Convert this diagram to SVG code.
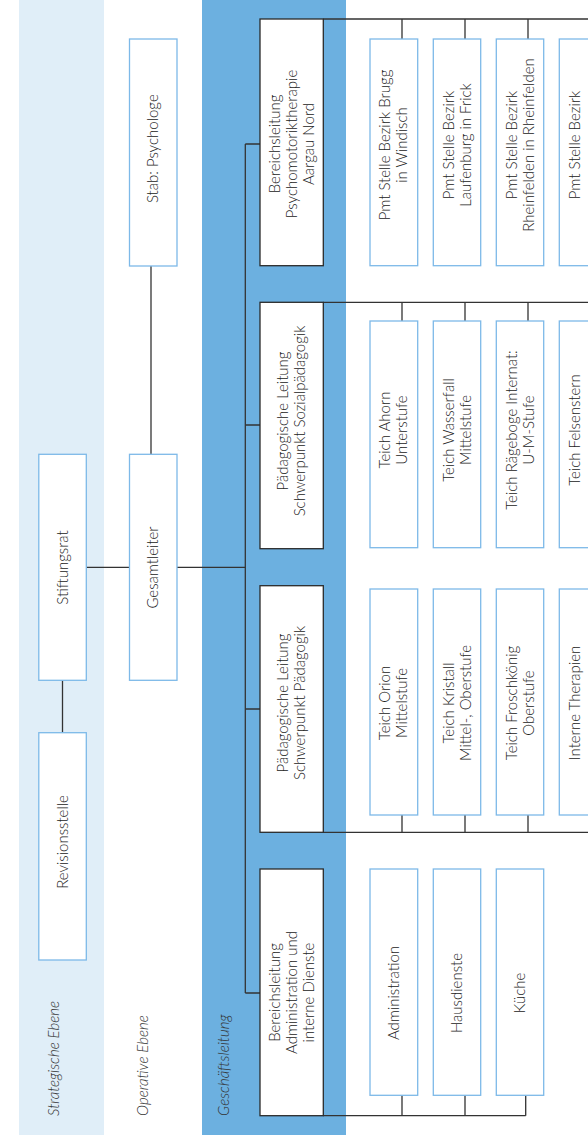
<svg xmlns="http://www.w3.org/2000/svg" width="588" height="1136" viewBox="0 0 588 1136">
<style>
.band1{fill:#e0eef8}
.band2{fill:#6cb0e0}
.bx{fill:#fff;stroke:#7db9e8;stroke-width:1.3}
.bk{fill:#fff;stroke:#2a2a2a;stroke-width:1.3}
.ln{fill:none;stroke:#333;stroke-width:1.3}
.t{font-family:Lato,"Open Sans","Liberation Sans",sans-serif;font-weight:300;font-size:15px;fill:#222;text-anchor:middle}
.lbl{font-family:Lato,"Open Sans","Liberation Sans",sans-serif;font-weight:300;font-style:italic;font-size:15px;fill:#333;text-anchor:start}
</style>
<rect class="band1" x="19" y="0" width="85" height="1135"/>
<rect class="band2" x="202" y="0" width="144" height="1135"/>
<g id="labels">
<text class="lbl" transform="translate(59,1116) rotate(-90)">Strategische Ebene</text>
<text class="lbl" transform="translate(148,1116) rotate(-90)">Operative Ebene</text>
<text class="lbl" transform="translate(229,1116) rotate(-90)">Geschäftsleitung</text>
</g>
<g id="connectors">
<path class="ln" d="M62.5,680.3V732.7"/>
<path class="ln" d="M86.3,567.3H129.5"/>
<path class="ln" d="M151,266V454"/>
<path class="ln" d="M177,567.3H245.3"/>
<path class="ln" d="M245.3,144V993"/>
<path class="ln" d="M245.3,144H260M245.3,425H260M245.3,709H260M245.3,993H260"/>
<path class="ln" d="M323.3,19H588M402,19V39M465,19V39M528,19V39"/>
<path class="ln" d="M323.3,302.3H588M402,302.3V321M465,302.3V321M528,302.3V321"/>
<path class="ln" d="M323.3,832.3H588M402,815V832.3M465,815V832.3M528,815V832.3"/>
<path class="ln" d="M323.3,1115.7H525.7M402,1095.3V1115.7M465,1095.3V1115.7M525.7,1095.3V1115.7"/>
</g>
<g id="stab"><rect class="bx" x="129.5" y="39" width="47.5" height="227"/>
<text class="t" transform="translate(153.3,148.7) rotate(-90)"><tspan x="0" y="5">Stab: Psychologe</tspan></text></g>
<g id="stiftungsrat"><rect class="bx" x="38.8" y="454.3" width="47.5" height="226"/>
<text class="t" transform="translate(62.5,567.5) rotate(-90)"><tspan x="0" y="5">Stiftungsrat</tspan></text></g>
<g id="gesamtleiter"><rect class="bx" x="129.5" y="454.3" width="47.5" height="226"/>
<text class="t" transform="translate(153.3,567.5) rotate(-90)"><tspan x="0" y="5">Gesamtleiter</tspan></text></g>
<g id="revisionsstelle"><rect class="bx" x="38.8" y="732.7" width="47.5" height="227.3"/>
<text class="t" transform="translate(62.5,842) rotate(-90)"><tspan x="0" y="5">Revisionsstelle</tspan></text></g>
<g id="bl-psychomotorik"><rect class="bk" x="260" y="19" width="63.3" height="246.7"/>
<text class="t" transform="translate(291.7,144) rotate(-90)"><tspan x="0" y="-12">Bereichsleitung</tspan><tspan x="0" y="5">Psychomotoriktherapie</tspan><tspan x="0" y="22">Aargau Nord</tspan></text></g>
<g id="pl-sozial"><rect class="bk" x="260" y="302.3" width="63.3" height="246.4"/>
<text class="t" transform="translate(291.7,421) rotate(-90)"><tspan x="0" y="-3.5">Pädagogische Leitung</tspan><tspan x="0" y="13.5">Schwerpunkt Sozialpädagogik</tspan></text></g>
<g id="pl-paed"><rect class="bk" x="260" y="585.7" width="63.3" height="246.6"/>
<text class="t" transform="translate(291.7,703) rotate(-90)"><tspan x="0" y="-3.5">Pädagogische Leitung</tspan><tspan x="0" y="13.5">Schwerpunkt Pädagogik</tspan></text></g>
<g id="bl-admin"><rect class="bk" x="260" y="869" width="63.3" height="246.7"/>
<text class="t" transform="translate(291.7,992.5) rotate(-90)"><tspan x="0" y="-12">Bereichsleitung</tspan><tspan x="0" y="5">Administration und</tspan><tspan x="0" y="22">interne Dienste</tspan></text></g>
<g id="pmt-brugg"><rect class="bx" x="370" y="39" width="47.7" height="226.7"/>
<text class="t" transform="translate(393.8,145) rotate(-90)"><tspan x="0" y="-3.5">Pmt Stelle Bezirk Brugg</tspan><tspan x="0" y="13.5">in Windisch</tspan></text></g>
<g id="pmt-laufenburg"><rect class="bx" x="433.3" y="39" width="47.4" height="226.7"/>
<text class="t" transform="translate(457,145) rotate(-90)"><tspan x="0" y="-3.5">Pmt Stelle Bezirk</tspan><tspan x="0" y="13.5">Laufenburg in Frick</tspan></text></g>
<g id="pmt-rheinfelden"><rect class="bx" x="496.3" y="39" width="47.4" height="226.7"/>
<text class="t" transform="translate(520,145) rotate(-90)"><tspan x="0" y="-3.5">Pmt Stelle Bezirk</tspan><tspan x="0" y="13.5">Rheinfelden in Rheinfelden</tspan></text></g>
<g id="pmt-4"><rect class="bx" x="559.3" y="39" width="30.5" height="226.7"/>
<text class="t" transform="translate(583,145) rotate(-90)"><tspan x="0" y="-3.5">Pmt Stelle Bezirk</tspan></text></g>
<g id="teich-ahorn"><rect class="bx" x="370" y="321" width="47.7" height="226.7"/>
<text class="t" transform="translate(393.8,430) rotate(-90)"><tspan x="0" y="-3.5">Teich Ahorn</tspan><tspan x="0" y="13.5">Unterstufe</tspan></text></g>
<g id="teich-wasserfall"><rect class="bx" x="433.3" y="321" width="47.4" height="226.7"/>
<text class="t" transform="translate(457,430) rotate(-90)"><tspan x="0" y="-3.5">Teich Wasserfall</tspan><tspan x="0" y="13.5">Mittelstufe</tspan></text></g>
<g id="teich-raegeboge"><rect class="bx" x="496.3" y="321" width="47.4" height="226.7"/>
<text class="t" transform="translate(520,430) rotate(-90)"><tspan x="0" y="-3.5">Teich Rägeboge Internat:</tspan><tspan x="0" y="13.5">U-M-Stufe</tspan></text></g>
<g id="teich-felsenstern"><rect class="bx" x="559.3" y="321" width="30.5" height="226.7"/>
<text class="t" transform="translate(583,430) rotate(-90)"><tspan x="0" y="-3.5">Teich Felsenstern</tspan></text></g>
<g id="teich-orion"><rect class="bx" x="370" y="589" width="47.7" height="226"/>
<text class="t" transform="translate(393.8,703) rotate(-90)"><tspan x="0" y="-3.5">Teich Orion</tspan><tspan x="0" y="13.5">Mittelstufe</tspan></text></g>
<g id="teich-kristall"><rect class="bx" x="433.3" y="589" width="47.4" height="226"/>
<text class="t" transform="translate(457,703) rotate(-90)"><tspan x="0" y="-3.5">Teich Kristall</tspan><tspan x="0" y="13.5">Mittel-, Oberstufe</tspan></text></g>
<g id="teich-froschkoenig"><rect class="bx" x="496.3" y="589" width="47.4" height="226"/>
<text class="t" transform="translate(520,703) rotate(-90)"><tspan x="0" y="-3.5">Teich Froschkönig</tspan><tspan x="0" y="13.5">Oberstufe</tspan></text></g>
<g id="interne-therapien"><rect class="bx" x="559.3" y="589" width="30.5" height="226"/>
<text class="t" transform="translate(583,703) rotate(-90)"><tspan x="0" y="-3.5">Interne Therapien</tspan></text></g>
<g id="administration"><rect class="bx" x="370" y="869" width="47.7" height="226.3"/>
<text class="t" transform="translate(393.8,993) rotate(-90)"><tspan x="0" y="5">Administration</tspan></text></g>
<g id="hausdienste"><rect class="bx" x="433.3" y="869" width="47.4" height="226.3"/>
<text class="t" transform="translate(457,993) rotate(-90)"><tspan x="0" y="5">Hausdienste</tspan></text></g>
<g id="kueche"><rect class="bx" x="496.3" y="869" width="47.4" height="226.3"/>
<text class="t" transform="translate(520,993) rotate(-90)"><tspan x="0" y="5">Küche</tspan></text></g>
</svg>
